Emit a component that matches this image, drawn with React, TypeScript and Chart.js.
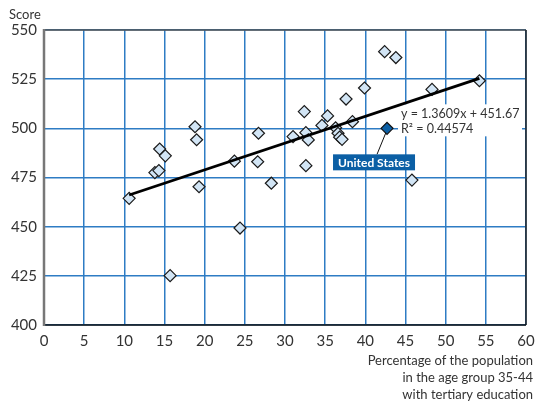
import React, { useEffect, useRef } from "react";
import { Chart, registerables } from "chart.js";

Chart.register(...registerables);

// Countries: share of 35-44 with tertiary education (x) vs score (y)
const eduPct = [10.6, 13.8, 14.3, 14.4, 15.1, 15.7, 18.8, 19.0, 19.3, 23.7, 24.4, 26.6, 26.7, 28.3, 31.0, 32.4, 32.6, 32.9, 32.6, 34.6, 35.3, 36.3, 36.6, 36.8, 37.1, 37.6, 38.4, 39.9, 42.4, 43.8, 45.8, 48.3, 54.2];
const scores = [464.4, 477.5, 478.5, 489.5, 486.0, 425.1, 500.8, 494.2, 470.3, 483.3, 449.3, 483.0, 497.5, 472.1, 495.8, 508.5, 497.8, 494.1, 481.0, 501.5, 506.3, 500.3, 497.5, 495.5, 494.4, 514.9, 503.4, 520.5, 539.0, 536.0, 473.7, 519.8, 524.2];

const usX = [42.7];
const usY = [500.0];
const usLabel = "United States";

// Trend line endpoints
const trendX = [10.6, 54.2];
const trendY = [466.1, 525.4];
const trendEq = "y = 1.3609x + 451.67";
const trendR2 = "R² = 0.44574";

const xTicks = [0, 5, 10, 15, 20, 25, 30, 35, 40, 45, 50, 55, 60];
const yTicks = [400, 425, 450, 475, 500, 525, 550];
const yTitle = "Score";
const xTitle = ["Percentage of the population", "in the age group 35-44", "with tertiary education"];

const FONT = "Lato, 'Open Sans', sans-serif";
const TEXT = "#333333";
const GRID = "rgb(46,124,196)";

export default function App() {
  const ref = useRef<HTMLCanvasElement | null>(null);

  useEffect(() => {
    if (!ref.current) return;
    const decor = {
      id: "decor",
      beforeDatasetsDraw(chart: any) {
        const { ctx, scales } = chart;
        const px = scales.x.getPixelForValue(usX[0]);
        const py = scales.y.getPixelForValue(usY[0]);
        ctx.save();
        // white box behind equation
        ctx.fillStyle = "#ffffff";
        ctx.fillRect(px + 11, py - 24, 124, 32);
        // leader line
        ctx.strokeStyle = "#111";
        ctx.lineWidth = 1;
        ctx.beginPath();
        ctx.moveTo(px - 10, py + 26);
        ctx.lineTo(px - 1, py + 4);
        ctx.stroke();
        ctx.restore();
      },
      afterDraw(chart: any) {
        const { ctx, chartArea: a, scales } = chart;
        const px = scales.x.getPixelForValue(usX[0]);
        const py = scales.y.getPixelForValue(usY[0]);
        ctx.save();
        // border around plot
        ctx.strokeStyle = "#555";
        ctx.lineWidth = 1.5;
        ctx.beginPath();
        ctx.moveTo(a.left, a.top);
        ctx.lineTo(a.right, a.top);
        ctx.stroke();
        ctx.strokeStyle = "#222";
        ctx.beginPath();
        ctx.moveTo(a.right, a.top);
        ctx.lineTo(a.right, a.bottom);
        ctx.stroke();
        ctx.strokeStyle = "#111";
        ctx.beginPath();
        ctx.moveTo(a.left, a.bottom);
        ctx.lineTo(a.right, a.bottom);
        ctx.stroke();
        ctx.strokeStyle = "#777";
        ctx.lineWidth = 2.5;
        ctx.beginPath();
        ctx.moveTo(a.left, a.top - 1);
        ctx.lineTo(a.left, a.bottom + 1);
        ctx.stroke();

        // equation text
        ctx.fillStyle = TEXT;
        ctx.font = `12.5px ${FONT}`;
        ctx.textAlign = "left";
        ctx.textBaseline = "middle";
        ctx.fillText(trendEq, px + 14, py - 14);
        ctx.fillText(trendR2, px + 14, py + 1);

        // US label box
        ctx.fillStyle = "#0b5fa5";
        ctx.fillRect(px - 54, py + 26, 82, 16);
        ctx.fillStyle = "#ffffff";
        ctx.font = `bold 12px ${FONT}`;
        ctx.textAlign = "center";
        ctx.fillText(usLabel, px - 13, py + 34.5);

        // axis titles
        ctx.fillStyle = TEXT;
        ctx.font = `13px ${FONT}`;
        ctx.textAlign = "left";
        ctx.fillText(yTitle, 9, 15);
        ctx.textAlign = "right";
        xTitle.forEach((t, i) => ctx.fillText(t, 533, 361 + i * 17));
        ctx.restore();
      },
    };

    const chart = new Chart(ref.current, {
      type: "scatter",
      data: {
        datasets: [
          {
            label: "trend",
            type: "line",
            data: trendX.map((x, i) => ({ x, y: trendY[i] })),
            borderColor: "#000",
            borderWidth: 2.8,
            pointRadius: 0,
            order: 0,
          } as any,
          {
            label: "countries",
            data: eduPct.map((x, i) => ({ x, y: scores[i] })),
            pointStyle: "rectRot",
            pointRadius: 6,
            backgroundColor: "#d2e5f5",
            borderColor: "#1a1a1a",
            borderWidth: 1.2,
            order: 1,
          },
          {
            label: "us",
            data: usX.map((x, i) => ({ x, y: usY[i] })),
            pointStyle: "rectRot",
            pointRadius: 6,
            backgroundColor: "#0b5fa5",
            borderColor: "#111",
            borderWidth: 1.2,
            order: -1,
          },
        ],
      },
      options: {
        animation: false,
        responsive: false,
        devicePixelRatio: 1,
        layout: { padding: { left: 0, right: 9, top: 30, bottom: 0 } },
        plugins: { legend: { display: false }, tooltip: { enabled: false } },
        scales: {
          x: {
            type: "linear",
            min: 0,
            max: 60,
            afterBuildTicks: (s: any) => { s.ticks = xTicks.map((v) => ({ value: v })); },
            afterFit: (s: any) => { s.height = 79; s.paddingLeft = 0; s.paddingRight = 0; },
            grid: { color: GRID, lineWidth: 1.5, drawTicks: false },
            border: { display: false },
            ticks: { color: TEXT, font: { family: FONT, size: 15 }, padding: 7, maxRotation: 0 },
          },
          y: {
            type: "linear",
            min: 400,
            max: 550,
            afterBuildTicks: (s: any) => { s.ticks = yTicks.map((v) => ({ value: v })); },
            afterFit: (s: any) => { s.width = 44; },
            grid: { color: GRID, lineWidth: 1.5, drawTicks: false },
            border: { display: false },
            ticks: { color: TEXT, font: { family: FONT, size: 15 }, padding: 7 },
          },
        },
      },
      plugins: [decor],
    });
    return () => chart.destroy();
  }, []);

  return (
    <div style={{ position: "absolute", left: 0, top: 0, width: 535, height: 404, background: "#fff" }}>
      <canvas ref={ref} width={535} height={404} style={{ width: 535, height: 404 }} />
    </div>
  );
}
